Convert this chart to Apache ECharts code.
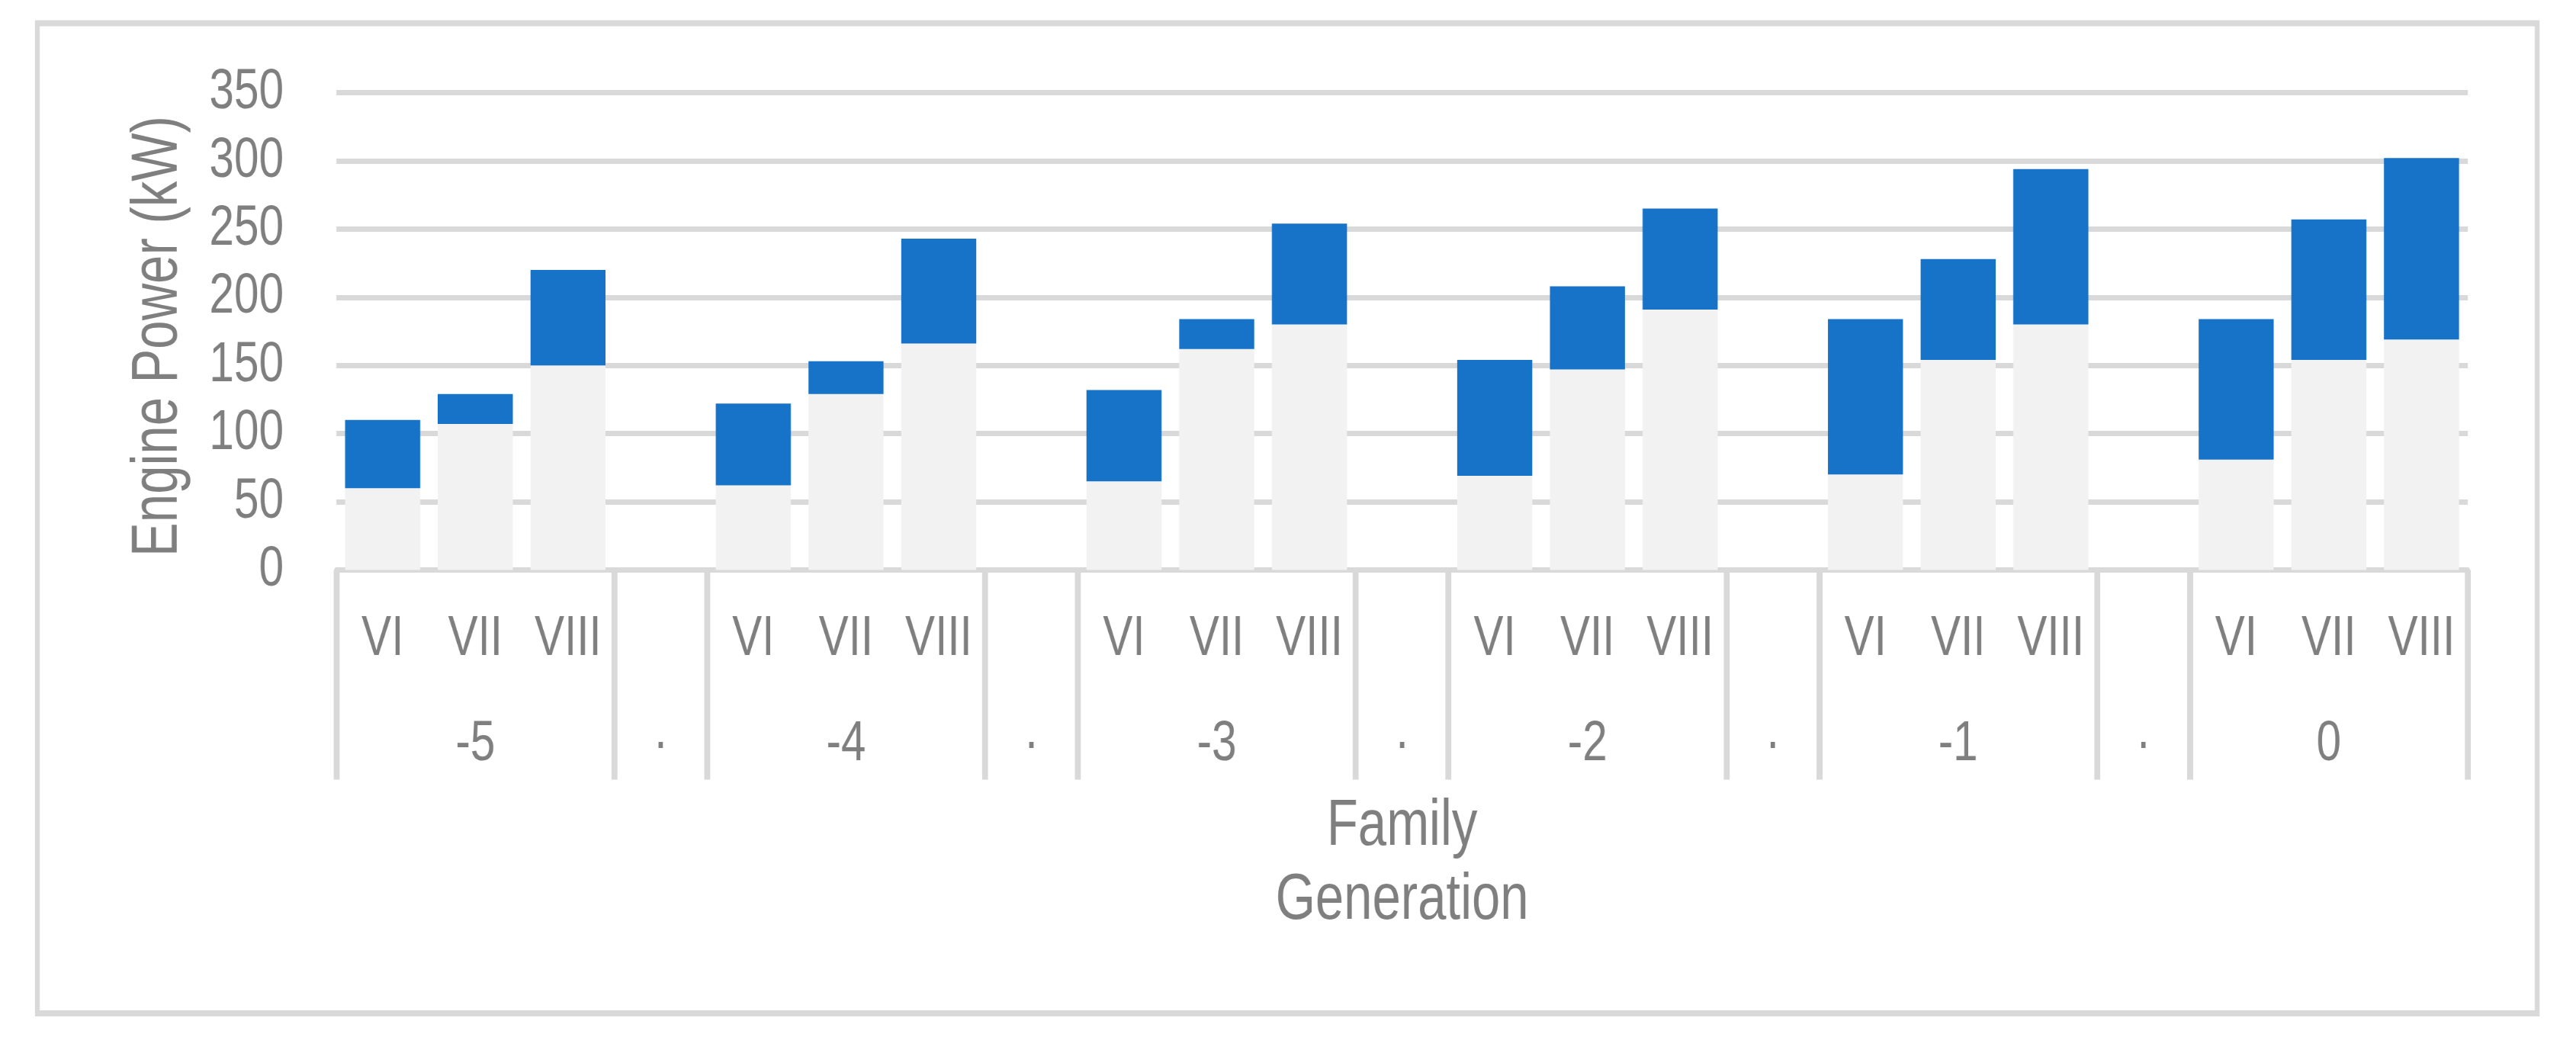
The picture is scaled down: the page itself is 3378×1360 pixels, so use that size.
<!DOCTYPE html>
<html>
<head>
<meta charset="utf-8">
<script src="https://cdn.jsdelivr.net/npm/echarts@6/dist/echarts.min.js"></script>
<style>
  html, body { margin: 0; padding: 0; background: #ffffff; overflow: hidden; }
  #wrap { width: 3378px; height: 1360px; overflow: hidden; position: relative; }
  /* the reference uses a narrow (condensed) typeface: render wider and condense horizontally */
  #chart { width: 4331px; height: 1360px; transform: scaleX(0.78); transform-origin: 0 0; }
</style>
</head>
<body>
<div id="wrap"><div id="chart"></div></div>
<script>
// ---- data ----
const families = ['-5', '-4', '-3', '-2', '-1', '0'];
const generations = ['VI', 'VII', 'VIII'];
const gapLabel = '·';
// lower (light grey) part of each bar, per family: VI, VII, VIII
const baseValues = [
  [60, 107, 150],
  [62, 129, 166],
  [65, 162, 180],
  [69, 147, 191],
  [70, 154, 180],
  [81, 154, 169]
];
// upper (blue) part of each bar, per family: VI, VII, VIII
const rangeValues = [
  [50, 22, 70],
  [60, 24, 77],
  [67, 22, 74],
  [85, 61, 74],
  [114, 74, 114],
  [103, 103, 133]
];
const yTicks = { min: 0, max: 350, interval: 50 };
const yTitle = 'Engine Power (kW)';
const xTitle = 'Family\nGeneration';

// ---- build category rows ----
const genRow = [], famRow = [], baseData = [], rangeData = [], boundaryIdx = [];
families.forEach((f, fi) => {
  generations.forEach((g, gi) => {
    if (gi === 0) boundaryIdx.push(genRow.length);
    genRow.push(g);
    famRow.push(gi === 1 ? f : '');
    baseData.push(baseValues[fi][gi]);
    rangeData.push(rangeValues[fi][gi]);
  });
  if (fi < families.length - 1) {
    boundaryIdx.push(genRow.length);
    genRow.push('');
    famRow.push(gapLabel);
    baseData.push('-');
    rangeData.push('-');
  }
});

const SX = 0.78; // horizontal condensing of the whole canvas
const FONT = "'Liberation Sans', Arial, sans-serif";
const GREY_TEXT = '#7f7f7f';
const LINE = '#d9d9d9';

const chart = echarts.init(document.getElementById('chart'), null, { renderer: 'canvas' });
chart.setOption({
  animation: false,
  backgroundColor: '#ffffff',
  graphic: [{
    type: 'rect',
    shape: { x: 62.8, y: 30.5, width: 4202.6, height: 1298.5 },
    style: { fill: 'none', stroke: LINE, lineWidth: 8 },
    silent: true
  }, {
    // vertical axis title, condensed along its length like the rest of the text
    type: 'text',
    x: 267, y: 441,
    rotation: Math.PI / 2,
    scaleX: SX, scaleY: 1 / SX,
    style: {
      text: yTitle, fill: GREY_TEXT, fontSize: 86, fontFamily: FONT,
      textAlign: 'center', textVerticalAlign: 'middle'
    },
    silent: true
  }],
  grid: { left: 565.4, right: 182.1, top: 121.5, bottom: 612.5, containLabel: false },
  xAxis: [{
    type: 'category',
    data: genRow,
    position: 'bottom',
    axisLine: { show: true, lineStyle: { color: LINE, width: 7 } },
    axisTick: { show: false },
    axisLabel: {
      interval: 0, margin: 91, color: GREY_TEXT, fontSize: 75,
      fontFamily: FONT, verticalAlign: 'middle'
    },
    splitLine: { show: false }
  }, {
    type: 'category',
    data: famRow,
    position: 'bottom',
    offset: 0,
    axisLine: { show: false },
    axisTick: {
      show: true, length: 275,
      interval: (idx) => boundaryIdx.indexOf(idx) >= 0,
      lineStyle: { color: LINE, width: 10 }
    },
    axisLabel: {
      interval: 0, margin: 229, color: GREY_TEXT, fontSize: 75,
      fontFamily: FONT, verticalAlign: 'middle'
    },
    name: xTitle,
    nameLocation: 'middle',
    nameGap: 288,
    nameMoveOverlap: false,
    nameTextStyle: {
      color: GREY_TEXT, fontSize: 86, fontFamily: FONT, lineHeight: 97,
      verticalAlign: 'top'
    }
  }],
  yAxis: {
    type: 'value',
    min: yTicks.min, max: yTicks.max, interval: yTicks.interval,
    axisLine: { show: false },
    axisTick: { show: false },
    axisLabel: { margin: 88.5, color: GREY_TEXT, fontSize: 75, fontFamily: FONT },
    splitLine: { lineStyle: { color: LINE, width: 7 } }
  },
  series: [{
    type: 'bar',
    stack: 'power',
    data: baseData,
    barWidth: '81%',
    itemStyle: { color: '#f2f2f2' },
    silent: true
  }, {
    type: 'bar',
    stack: 'power',
    data: rangeData,
    barWidth: '81%',
    itemStyle: { color: '#1773c8' },
    silent: true
  }]
});
</script>
</body>
</html>
